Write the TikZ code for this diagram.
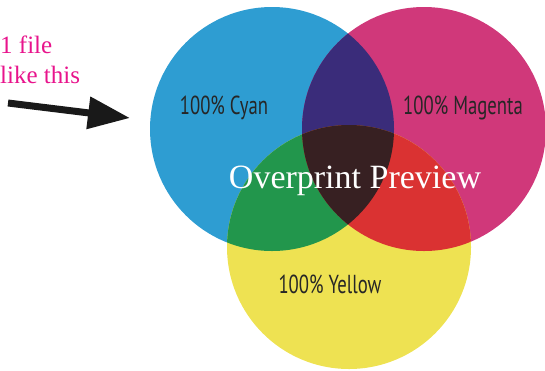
\documentclass[tikz,border=0pt]{standalone}
\usepackage{fontspec}
\setmainfont{Liberation Serif}
\newfontfamily\labelfont[FakeStretch=0.72]{PT Sans}
\usepackage{tikz}
\usetikzlibrary{arrows.meta}

\definecolor{cyanink}{RGB}{46,157,210}
\definecolor{magentaink}{RGB}{208,56,122}
\definecolor{yellowink}{RGB}{238,226,82}
\definecolor{blueink}{RGB}{58,44,122}
\definecolor{greenink}{RGB}{34,150,76}
\definecolor{redink}{RGB}{218,50,50}
\definecolor{darkink}{RGB}{55,32,34}
\definecolor{notepink}{RGB}{232,20,140}

\begin{document}
\begin{tikzpicture}[x=1pt,y=-1pt,
            ink label/.style={font=\labelfont\fontsize{26}{26}\selectfont,text=black!85},
            title/.style={font=\fontsize{34}{34}\selectfont,text=white},
            note/.style={font=\fontsize{25}{30}\selectfont,text=notepink,align=left},
            pointer/.style={line width=7pt,black!90,-{Triangle[length=42pt,width=31pt]}}]
    \useasboundingbox (0,0) rectangle (545,370);
    \def\rad{122}

    \coordinate (c) at (272,129);
    \coordinate (m) at (424,129);
    \coordinate (y) at (349,247);

    % plain inks
    \fill[cyanink] (c) circle (\rad);
    \fill[magentaink] (m) circle (\rad);
    \fill[yellowink] (y) circle (\rad);

    % overprints
    \begin{scope}
        \clip (c) circle (\rad);
        \fill[blueink] (m) circle (\rad);
        \fill[greenink] (y) circle (\rad);
    \end{scope}
    \begin{scope}
        \clip (m) circle (\rad);
        \fill[redink] (y) circle (\rad);
        \clip (c) circle (\rad);
        \fill[darkink] (y) circle (\rad);
    \end{scope}

    \node[ink label] (cyan) at (224,108) {100\% Cyan};
    \node[ink label] (magenta) at (463,108) {100\% Magenta};
    \node[ink label] (yellow) at (330,284) {100\% Yellow};
    \node[title,anchor=base] (preview) at (355,188) {Overprint Preview};

    \node[note,anchor=base west,inner sep=0pt] (note) at (0,83) {1 file\\like this};
    \coordinate (tail) at (8,103);
    \coordinate (tip) at (130,118);
    \draw[pointer] (tail) -- (tip);
\end{tikzpicture}
\end{document}
